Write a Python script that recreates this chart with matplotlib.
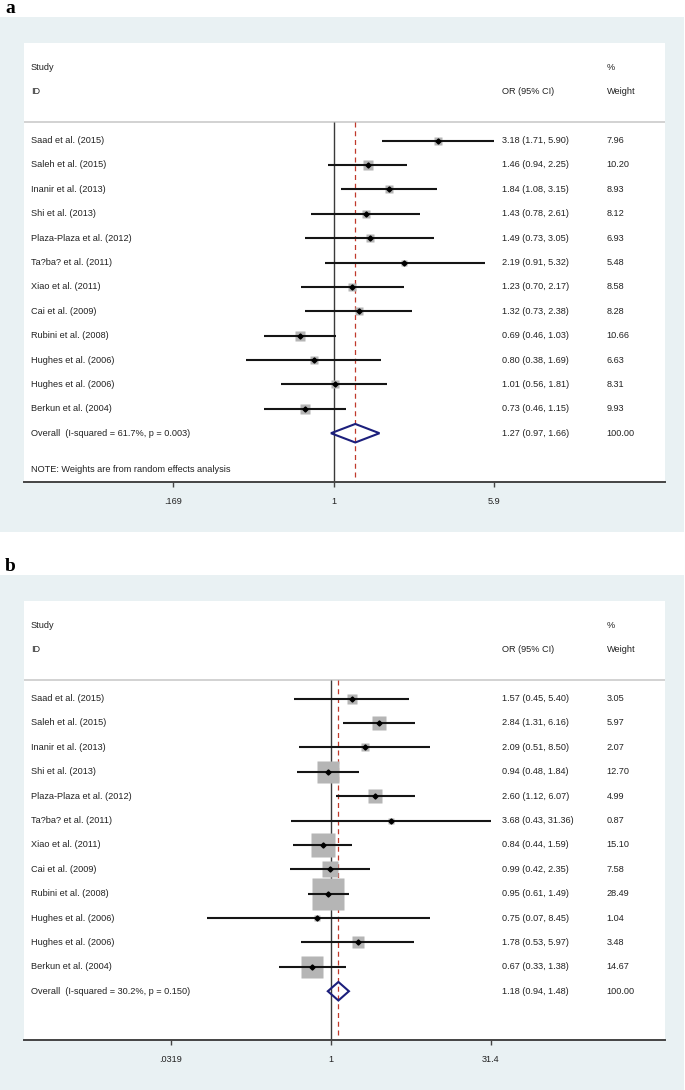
import numpy as np
import matplotlib.pyplot as plt
from matplotlib.patches import Rectangle, Polygon
from matplotlib.transforms import blended_transform_factory

plt.rcParams['font.family'] = ['Liberation Sans', 'DejaVu Sans']

# study labels (same for both panels)
studies = ["Saad et al. (2015)", "Saleh et al. (2015)", "Inanir et al. (2013)",
           "Shi et al. (2013)", "Plaza-Plaza et al. (2012)", "Ta?ba? et al. (2011)",
           "Xiao et al. (2011)", "Cai et al. (2009)", "Rubini et al. (2008)",
           "Hughes et al. (2006)", "Hughes et al. (2006)", "Berkun et al. (2004)"]

# panel a
or_a = [3.18, 1.46, 1.84, 1.43, 1.49, 2.19, 1.23, 1.32, 0.69, 0.80, 1.01, 0.73]
lo_a = [1.71, 0.94, 1.08, 0.78, 0.73, 0.91, 0.70, 0.73, 0.46, 0.38, 0.56, 0.46]
hi_a = [5.90, 2.25, 3.15, 2.61, 3.05, 5.32, 2.17, 2.38, 1.03, 1.69, 1.81, 1.15]
wt_a = [7.96, 10.20, 8.93, 8.12, 6.93, 5.48, 8.58, 8.28, 10.66, 6.63, 8.31, 9.93]
overall_a = [1.27, 0.97, 1.66]
isq_a, p_a = "61.7%", "0.003"
ticks_a = [0.169, 1, 5.9]
ticklabels_a = [".169", "1", "5.9"]

# panel b
or_b = [1.57, 2.84, 2.09, 0.94, 2.60, 3.68, 0.84, 0.99, 0.95, 0.75, 1.78, 0.67]
lo_b = [0.45, 1.31, 0.51, 0.48, 1.12, 0.43, 0.44, 0.42, 0.61, 0.07, 0.53, 0.33]
hi_b = [5.40, 6.16, 8.50, 1.84, 6.07, 31.36, 1.59, 2.35, 1.49, 8.45, 5.97, 1.38]
wt_b = [3.05, 5.97, 2.07, 12.70, 4.99, 0.87, 15.10, 7.58, 28.49, 1.04, 3.48, 14.67]
overall_b = [1.18, 0.94, 1.48]
isq_b, p_b = "30.2%", "0.150"
ticks_b = [0.0319, 1, 31.4]
ticklabels_b = [".0319", "1", "31.4"]

W, H = 685, 1090
fig = plt.figure(figsize=(W / 100, H / 100), dpi=100)
fig.patch.set_facecolor('white')

BG = '#e9f1f3'
TXT = '#222222'
FS = 6.6


def fx(p):
    return p / W


def fy(p):
    return 1 - p / H


def panel(off, letter, ors, los, his, wts, overall, isq, pval, ticks, ticklabels,
          x1_px, px_per_ln, box_k, note):
    # outer light blue frame
    fig.add_artist(Rectangle((0, fy(532 + off)), fx(684), (532 - 17) / H,
                             transform=fig.transFigure, facecolor=BG,
                             edgecolor='none', zorder=0))
    fig.text(fx(5), fy(8.5 + off), letter, family=['Liberation Serif', 'DejaVu Serif'],
             fontsize=14, fontweight='bold', va='center', ha='left')

    ax = fig.add_axes([fx(24), fy(482 + off), 641 / W, 439 / H])
    ax.set_facecolor('white')
    ax.set_xscale('log')
    ax.set_xlim(np.exp((24 - x1_px) / px_per_ln), np.exp((665 - x1_px) / px_per_ln))
    ax.set_ylim(14, -4)
    for s in ['top', 'left', 'right']:
        ax.spines[s].set_visible(False)
    ax.spines['bottom'].set_color('#444444')
    ax.spines['bottom'].set_linewidth(1.4)
    ax.set_yticks([])
    ax.set_xticks(ticks)
    ax.set_xticklabels(ticklabels)
    ax.minorticks_off()
    ax.tick_params(axis='x', length=3.5, width=1, color='#444444', pad=7,
                   labelsize=FS, labelcolor=TXT)

    tr = blended_transform_factory(ax.transAxes, ax.transData)
    xs = (31 - 24) / 641
    xo = (501.5 - 24) / 641
    xw = (606.5 - 24) / 641

    # header
    ax.text(xs, -3, "Study", transform=tr, fontsize=FS, color=TXT, va='center')
    ax.text(xs, -2, "ID", transform=tr, fontsize=FS, color=TXT, va='center')
    ax.text(xw, -3, "%", transform=tr, fontsize=FS, color=TXT, va='center')
    ax.text(xw, -2, "Weight", transform=tr, fontsize=FS, color=TXT, va='center')
    ax.text(xo, -2, "OR (95% CI)", transform=tr, fontsize=FS, color=TXT, va='center')
    ax.axhline(-0.75, color='#d2d2d2', lw=1.4)

    # reference lines
    ax.vlines(1, -0.75, 14, color='#3a3a3a', lw=1.0, zorder=2)
    ax.vlines(overall[0], -0.75, 14, color='#c0392b', lw=0.9,
              linestyles=(0, (4, 3)), zorder=2)

    rows = np.arange(len(ors))
    for r, o, lo, hi, w, name in zip(rows, ors, los, his, wts, studies):
        side = box_k * np.sqrt(w) * 0.72
        ax.plot(o, r, marker='s', ms=side, color='#b5b5b5', mec='none', zorder=3)
        ax.hlines(r, lo, hi, color='#151515', lw=1.5, zorder=4)
        ax.plot(o, r, marker='D', ms=2.6, color='black', zorder=5)
        ax.text(xs, r, name, transform=tr, fontsize=FS, color=TXT, va='center')
        ax.text(xo, r, f"{o:.2f} ({lo:.2f}, {hi:.2f})", transform=tr,
                fontsize=FS, color=TXT, va='center')
        ax.text(xw, r, f"{w:.2f}", transform=tr, fontsize=FS, color=TXT, va='center')

    # overall diamond
    yo = len(ors)
    e, lo, hi = overall
    dh = 0.38
    ax.add_patch(Polygon([(lo, yo), (e, yo - dh), (hi, yo), (e, yo + dh)],
                         closed=True, fill=False, edgecolor='#1c1f7c', lw=1.5, zorder=5))
    ax.text(xs, yo, f"Overall  (I-squared = {isq}, p = {pval})", transform=tr,
            fontsize=FS, color=TXT, va='center')
    ax.text(xo, yo, f"{e:.2f} ({lo:.2f}, {hi:.2f})", transform=tr,
            fontsize=FS, color=TXT, va='center')
    ax.text(xw, yo, "100.00", transform=tr, fontsize=FS, color=TXT, va='center')
    if note:
        ax.text(xs, yo + 1.5, note, transform=tr, fontsize=FS, color=TXT, va='center')


panel(0, "a", or_a, lo_a, hi_a, wt_a, overall_a, isq_a, p_a, ticks_a, ticklabels_a,
      333.7, 90.3, 2.9, "NOTE: Weights are from random effects analysis")
panel(558, "b", or_b, lo_b, hi_b, wt_b, overall_b, isq_b, p_b, ticks_b, ticklabels_b,
      330.7, 46.5, 6.0, None)

fig.savefig("out.png", dpi=100)
